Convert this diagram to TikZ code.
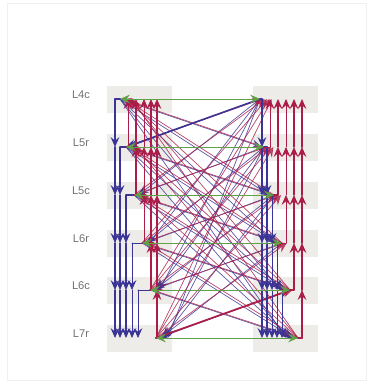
\documentclass[tikz,border=0pt]{standalone}
\usepackage{fontspec}
\setmainfont{Liberation Sans}
\usetikzlibrary{arrows.meta}
\definecolor{descblue}{RGB}{58,52,150}
\definecolor{ascred}{RGB}{172,28,72}
\definecolor{lateralgreen}{RGB}{96,160,70}
\definecolor{bandgray}{RGB}{238,236,233}
\definecolor{labelgray}{RGB}{112,112,112}
\tikzset{
  barb/.tip={Stealth[length=8.5pt,width=7.5pt,inset=3.2pt]},
  descend/.style={draw=descblue, fill=descblue, line width=#1, -barb},
  descend/.default=0.6pt,
  ascend/.style={draw=ascred, fill=ascred, line width=#1, -barb},
  ascend/.default=0.6pt,
  lateral/.style={draw=lateralgreen, fill=lateralgreen, line width=0.7pt, barb-barb},
  band/.style={fill=bandgray, draw=none},
  faint/.style={draw opacity=0.75, fill opacity=0.75},
}
\begin{document}
\begin{tikzpicture}[x=0.03cm, y=-0.03cm, line join=round, line cap=round, font=\fontsize{9.5}{11}\selectfont]
	\useasboundingbox (0,0) rectangle (367,381);
	\draw[gray!12] (7,3) rectangle (366,380);
	% layer rows: index/label/y/left node/right node/left down/left up/right down/right up
	\foreach \i/\name/\y/\xl/\xr/\lb/\lr/\rb/\rr in {
		0/L4c/99/120/260/115/120/262/262,
		1/L5r/147/126/264/120/128/267/270,
		2/L5c/195/134/274/126/136/272/278,
		3/L6r/243/142/282/132/144/277/286,
		4/L6c/290/150/290/138/151/282/294,
		5/L7r/338/156/298/143/157/287/302}{
		\fill[band] (107,\y-13) rectangle (172,\y+14);
		\fill[band] (253,\y-13) rectangle (318,\y+14);
		\node[text=labelgray] (lab\i) at (81,\y-4) {\name};
		\coordinate (l\i) at (\xl,\y);
		\coordinate (r\i) at (\xr,\y);
		\coordinate (lb\i) at (\lb,\y);
		\coordinate (lr\i) at (\lr,\y);
		\coordinate (rb\i) at (\rb,\y);
		\coordinate (rr\i) at (\rr,\y);
	}
	% cross connections between the two columns
	\foreach \i in {0,...,5}{
		\foreach \j in {0,...,5}{
			\pgfmathsetmacro\d{2*abs(\i-\j)}
			\ifnum\i<\j
				\draw[descend=0.6pt, faint] (l\i) -- ([xshift=-\d pt]r\j);
				\draw[descend=0.6pt, faint] (r\i) -- ([xshift=\d pt]l\j);
			\fi
			\ifnum\i>\j
				\draw[ascend=0.6pt, faint] (l\i) -- ([xshift=\d pt]r\j);
				\draw[ascend=0.6pt, faint] (r\i) -- ([xshift=\d pt]l\j);
			\fi
		}
	}
	\draw[descend=1.3pt] (r0) -- (l1);
	\draw[ascend=1.4pt] (l5) -- (r4);
	% left column, downward
	\foreach \i/\w in {0/1.5pt,1/1.1pt,2/0.9pt,3/0.7pt,4/0.7pt}{
		\draw[descblue, line width=\w] (l\i) -- (lb\i);
		\pgfmathtruncatemacro\n{\i+1}
		\foreach \j in {\n,...,5}{
			\pgfmathtruncatemacro\p{\j-1}
			\draw[descend=\w] (lb\i |- l\p) -- (lb\i |- l\j);
		}
	}
	% left column, upward
	\foreach \j/\w in {1/0.8pt,2/1.1pt,3/0.7pt,4/1.2pt,5/1.7pt}{
		\draw[ascred, line width=\w] (l\j) -- (lr\j);
		\pgfmathtruncatemacro\n{\j-1}
		\foreach \i in {\n,...,0}{
			\pgfmathtruncatemacro\q{\i+1}
			\draw[ascend=\w] (lr\j |- l\q) -- (lr\j |- l\i);
		}
	}
	% right column, downward
	\foreach \i/\w in {0/1.5pt,1/1.3pt,2/0.7pt,3/0.7pt,4/0.7pt}{
		\draw[descblue, line width=\w] (r\i) -- (rb\i);
		\pgfmathtruncatemacro\n{\i+1}
		\foreach \j in {\n,...,5}{
			\pgfmathtruncatemacro\p{\j-1}
			\draw[descend=\w] (rb\i |- r\p) -- (rb\i |- r\j);
		}
	}
	% right column, upward
	\foreach \j/\w in {1/0.8pt,2/0.9pt,3/0.7pt,4/1.1pt,5/1.7pt}{
		\draw[ascred, line width=\w] (r\j) -- (rr\j);
		\pgfmathtruncatemacro\n{\j-1}
		\foreach \i in {\n,...,0}{
			\pgfmathtruncatemacro\q{\i+1}
			\draw[ascend=\w] (rr\j |- r\q) -- (rr\j |- r\i);
		}
	}
	% same layer
	\foreach \i in {0,...,5}
		\draw[lateral] (l\i) -- (r\i);
\end{tikzpicture}
\end{document}
